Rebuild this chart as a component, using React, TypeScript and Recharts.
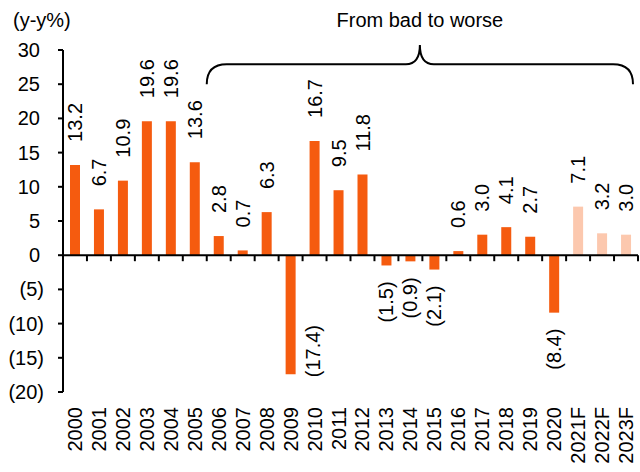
import React from 'react';
import { BarChart, Bar, XAxis, YAxis, Cell, LabelList, ReferenceLine, ReferenceArea, Customized } from 'recharts';

const categories = ['2000', '2001', '2002', '2003', '2004', '2005', '2006', '2007', '2008', '2009', '2010', '2011', '2012', '2013', '2014', '2015', '2016', '2017', '2018', '2019', '2020', '2021F', '2022F', '2023F'];
const growth = [13.2, 6.7, 10.9, 19.6, 19.6, 13.6, 2.8, 0.7, 6.3, -17.4, 16.7, 9.5, 11.8, -1.5, -0.9, -2.1, 0.6, 3.0, 4.1, 2.7, -8.4, 7.1, 3.2, 3.0];
const isForecast = [false, false, false, false, false, false, false, false, false, false, false, false, false, false, false, false, false, false, false, false, false, true, true, true];
const yTicks = [-20, -15, -10, -5, 0, 5, 10, 15, 20, 25, 30];
const unitLabel = '(y-y%)';
const annotationText = 'From bad to worse';
const annotationFrom = '2006';
const annotationTo = '2023F';

const Y_MIN = -20;
const Y_MAX = 30;
const ACTUAL = '#F55B0F';
const FORECAST = '#FCC8AE';
const FONT = '"Liberation Sans", Arial, sans-serif';
const FS = 20;

const data = categories.map((c, i) => ({ year: c, value: growth[i], forecast: isForecast[i] }));

const fmt = (v: number, dec: number) => (v < 0 ? `(${Math.abs(v).toFixed(dec)})` : v.toFixed(dec));

const textLen = (s: string) => {
  let w = 0;
  for (const ch of s) {
    if (ch === '.') w += 0.278;
    else if (ch === '(' || ch === ')') w += 0.333;
    else w += 0.556;
  }
  return w * FS;
};

const YTick = (props: any) => {
  const { x, y, payload } = props;
  const v = payload.value as number;
  const right = v < 0 ? 44 : 40;
  return (
    <text x={right} y={y} dy={7} textAnchor="end" fontSize={FS} fontFamily={FONT} fill="#000">
      {fmt(v, 0)}
    </text>
  );
};

const XTick = (props: any) => {
  const { x, y, payload } = props;
  return (
    <text
      transform={`translate(${x},${y + 15}) rotate(-90)`}
      dy={7}
      textAnchor="end"
      fontSize={FS}
      fontFamily={FONT}
      fill="#000"
    >
      {payload.value}
    </text>
  );
};

const BarLabel = (props: any) => {
  const vb = props.viewBox && props.viewBox.width !== undefined ? props.viewBox : props;
  const x = Number(vb.x);
  const y = Number(vb.y);
  const w = Number(vb.width);
  const h = Number(vb.height);
  const value = Number(props.value);
  const cx = x + w / 2;
  const top = Math.min(y, y + h);
  const bottom = Math.max(y, y + h);
  const label = fmt(value, 1);
  const common = { fontSize: FS, fontFamily: FONT, fill: '#000' };
  if (value >= 0) {
    return (
      <text transform={`translate(${cx},${top - 23}) rotate(-90)`} dy={7} textAnchor="start" {...common}>
        {label}
      </text>
    );
  }
  const pxPerUnit = Math.abs(h) / Math.abs(value);
  const available = (value - Y_MIN) * pxPerUnit;
  if (available < 16 + textLen(label)) {
    return (
      <text transform={`translate(${cx + 22},${bottom + 3}) rotate(-90)`} dy={7} textAnchor="start" {...common}>
        {label}
      </text>
    );
  }
  return (
    <text transform={`translate(${cx},${bottom + 16}) rotate(-90)`} dy={7} textAnchor="end" {...common}>
      {label}
    </text>
  );
};

const ZeroAxis = (props: any) => {
  const x1 = Number(props.x1);
  const x2 = Number(props.x2);
  const y0 = Number(props.y1);
  const n = categories.length;
  const step = (x2 - x1) / n;
  const ticks = [];
  for (let i = 1; i <= n; i++) {
    const tx = x1 + i * step;
    ticks.push(<line key={i} x1={tx} x2={tx} y1={y0} y2={y0 + 6} stroke="#000" strokeWidth={2} />);
  }
  return (
    <g>
      <line x1={x1} x2={x2} y1={y0} y2={y0} stroke="#000" strokeWidth={2} />
      {ticks}
    </g>
  );
};

const Brace = (props: any) => {
  const x = Number(props.x);
  const w = Number(props.width);
  const top = Number(props.y);
  const bottom = top + Number(props.height);
  const x0 = x;
  const x1 = x + w - 5;
  const xm = (x0 + x1) / 2;
  const ly = bottom - 20;
  const peak = top - 5;
  const d = `M ${x0} ${bottom} Q ${x0} ${ly} ${x0 + 20} ${ly} L ${xm - 14} ${ly} Q ${xm} ${ly} ${xm} ${peak} Q ${xm} ${ly} ${xm + 14} ${ly} L ${x1 - 20} ${ly} Q ${x1} ${ly} ${x1} ${bottom}`;
  return (
    <g>
      <path d={d} fill="none" stroke="#000" strokeWidth={2} />
      <text x={xm} y={top - 23} textAnchor="middle" fontSize={FS} fontFamily={FONT} fill="#000">
        {annotationText}
      </text>
    </g>
  );
};

const UnitLabel = () => (
  <text x={13} y={27} fontSize={FS} fontFamily={FONT} fill="#000">
    {unitLabel}
  </text>
);

export default function App() {
  return (
    <div style={{ position: 'absolute', left: 0, top: 0, width: 640, height: 472, background: '#fff' }}>
      <BarChart
        width={640}
        height={472}
        data={data}
        margin={{ top: 50, right: 2, bottom: 0, left: 0 }}
        barSize={10}
      >
        <XAxis
          dataKey="year"
          axisLine={false}
          tickLine={false}
          tickSize={0}
          tickMargin={0}
          height={80}
          interval={0}
          tick={<XTick />}
        />
        <YAxis
          domain={[Y_MIN, Y_MAX]}
          ticks={yTicks}
          width={63}
          interval={0}
          axisLine={{ stroke: '#000', strokeWidth: 2 }}
          tickLine={{ stroke: '#000', strokeWidth: 2 }}
          tickSize={5}
          tick={<YTick />}
        />
        <Bar dataKey="value" isAnimationActive={false}>
          {data.map((d, i) => (
            <Cell key={i} fill={d.forecast ? FORECAST : ACTUAL} />
          ))}
          <LabelList dataKey="value" content={<BarLabel />} />
        </Bar>
        <ReferenceLine y={0} shape={<ZeroAxis />} />
        <ReferenceArea x1={annotationFrom} x2={annotationTo} y1={25} y2={30} shape={<Brace />} />
        <Customized component={<UnitLabel />} />
      </BarChart>
    </div>
  );
}
